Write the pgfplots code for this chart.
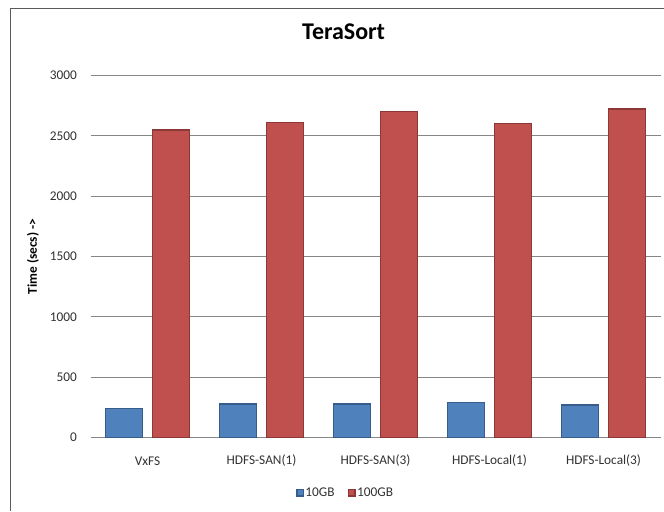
\documentclass[border=0pt]{standalone}
\usepackage{fontspec}
\setmainfont{Carlito}
\usepackage{pgfplots}
\pgfplotsset{compat=1.18}
\definecolor{barblue}{RGB}{79,129,189}
\definecolor{barblueedge}{RGB}{56,93,138}
\definecolor{barred}{RGB}{192,80,77}
\definecolor{barrededge}{RGB}{140,56,54}
\definecolor{gridgray}{RGB}{134,134,134}
\definecolor{framegray}{RGB}{90,90,90}
\definecolor{txt}{RGB}{50,50,50}
\begin{document}
\begin{tikzpicture}
\useasboundingbox (0,0) rectangle (498pt,383.25pt);
\fill[white] (0,0) rectangle (498pt,383.25pt);
\draw[framegray,line width=1.1pt] (7.9pt,0pt) -- (7.9pt,376.9pt) -- (498pt,376.9pt);
\begin{axis}[
  at={(67.9pt,54.98pt)}, anchor=south west,
  scale only axis, width=427.5pt, height=271.6pt,
  ybar=7.8pt, bar width=27.75pt,
  xmin=-0.5, xmax=4.5, ymin=0, ymax=3000,
  xtick={0,1,2,3,4},
  xticklabels={VxFS,HDFS-SAN(1),HDFS-SAN(3),HDFS-Local(1),HDFS-Local(3)},
  ytick={0,500,1000,1500,2000,2500,3000},
  major tick length=0pt,
  axis line style={draw=none},
  ymajorgrids, grid style={gridgray,line width=0.75pt},
  /pgf/number format/assume math mode=true,
  /pgf/number format/1000 sep={},
  yticklabel style={font=\fontsize{10}{12}\selectfont, text=txt, anchor=east, inner sep=0pt, xshift=-10pt},
  xticklabel style={font=\fontsize{10}{12}\selectfont, text=txt, anchor=center, inner sep=0pt, yshift=-17.5pt},
  ylabel={Time (secs) ->},
  every axis y label/.style={at={(rel axis cs:-0.101,0.5)}, rotate=90, anchor=center, font=\bfseries\fontsize{10}{12}\selectfont, text=black},
  title={TeraSort},
  title style={at={(rel axis cs:0.444,1.098)}, anchor=center, font=\bfseries\fontsize{18}{21}\selectfont},
  legend style={at={(rel axis cs:0.447,-0.152)}, anchor=center, draw=none, fill=none,
    legend columns=2, font=\fontsize{10}{12}\selectfont, text=txt,
    /tikz/every even column/.append style={column sep=9pt},
    nodes={inner sep=1pt}},
  legend image code/.code={\fill[#1] (0pt,-2.4pt) rectangle (4.8pt,2.4pt);\draw[#1,line width=0.4pt,fill=none] (0pt,-2.4pt) rectangle (4.8pt,2.4pt);},
]
\addplot[fill=barblue, draw=barblueedge, line width=1.1pt] coordinates {(0,242) (1,281) (2,281) (3,290) (4,271)};
\addplot[fill=barred, draw=barrededge, line width=1.1pt] coordinates {(0,2550) (1,2610) (2,2703) (3,2603) (4,2722)};
\legend{10GB,100GB}
\end{axis}
\end{tikzpicture}
\end{document}
